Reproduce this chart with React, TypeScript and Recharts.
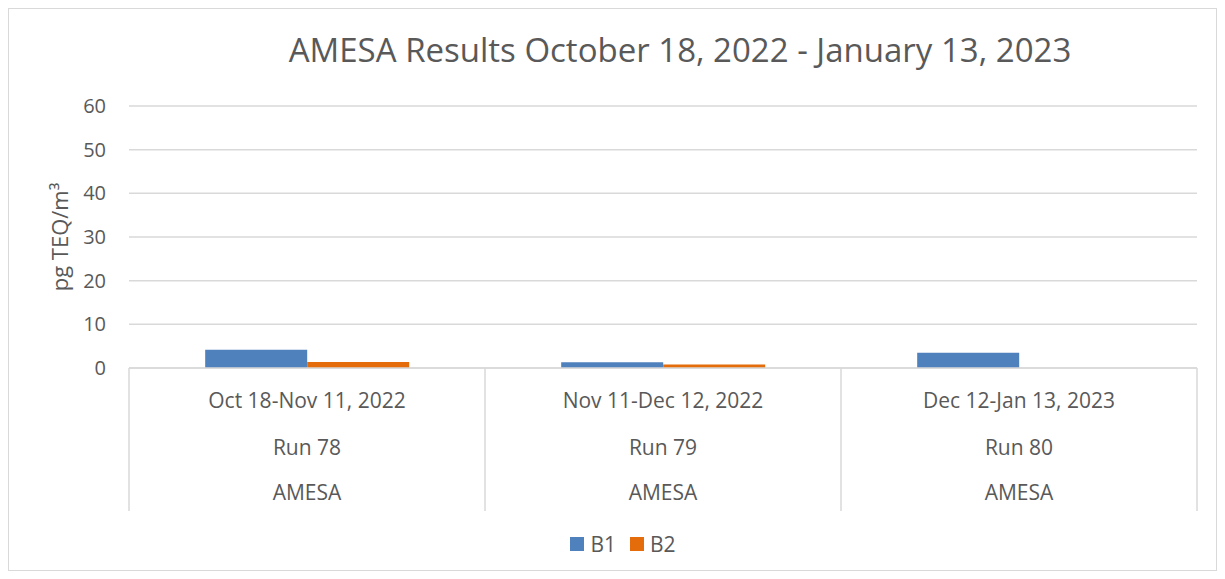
import React from 'react';
import { BarChart, Bar, XAxis, YAxis, CartesianGrid, Legend } from 'recharts';

const periods = ['Oct 18-Nov 11, 2022', 'Nov 11-Dec 12, 2022', 'Dec 12-Jan 13, 2023'];
const runs = ['Run 78', 'Run 79', 'Run 80'];
const sites = ['AMESA', 'AMESA', 'AMESA'];
const b1Values = [4.2, 1.3, 3.5];
const b2Values: (number | null)[] = [1.4, 0.8, null];
const yTicks = [0, 10, 20, 30, 40, 50, 60];

const data = periods.map((p, i) => ({
  period: p,
  run: runs[i],
  site: sites[i],
  B1: b1Values[i],
  B2: b2Values[i],
}));

const textColor = '#595959';
const lineColor = '#d9d9d9';
const font = '"Open Sans", sans-serif';

const MultiLevelTick = (props: any) => {
  const { x, y, payload, index } = props;
  const half = payload && payload.offset ? payload.offset : 178;
  const row = data[index] || data[0];
  const axisH = 143;
  return (
    <g>
      <line x1={x - half} y1={y} x2={x - half} y2={y + axisH} stroke={lineColor} strokeWidth={1.5} />
      {index === data.length - 1 && (
        <line x1={x + half} y1={y} x2={x + half} y2={y + axisH} stroke={lineColor} strokeWidth={1.5} />
      )}
      <text x={x} y={y + 32} textAnchor="middle" dominantBaseline="central" fill={textColor} fontSize={21} fontFamily={font}>
        {row.period}
      </text>
      <text x={x} y={y + 79} textAnchor="middle" dominantBaseline="central" fill={textColor} fontSize={21} fontFamily={font}>
        {row.run}
      </text>
      <text x={x} y={y + 124} textAnchor="middle" dominantBaseline="central" fill={textColor} fontSize={21} fontFamily={font}>
        {row.site}
      </text>
    </g>
  );
};

const LegendContent = (props: any) => {
  const { payload } = props;
  return (
    <div style={{ display: 'flex', justifyContent: 'center', paddingLeft: 40 }}>
      {(payload || []).map((item: any) => (
        <div key={item.value} style={{ display: 'flex', alignItems: 'center', margin: '0 7px' }}>
          <span style={{ width: 14, height: 14, background: item.color, display: 'inline-block', marginRight: 6 }} />
          <span style={{ color: textColor, fontSize: 21, fontFamily: font }}>{item.value}</span>
        </div>
      ))}
    </div>
  );
};

const App = () => {
  return (
    <div
      style={{
        position: 'relative',
        width: 1209,
        height: 563,
        border: `1px solid ${lineColor}`,
        boxSizing: 'border-box',
        background: '#fff',
        fontFamily: font,
      }}
    >
      <div
        style={{
          position: 'absolute',
          left: 671,
          top: 40,
          transform: 'translate(-50%, -50%)',
          whiteSpace: 'nowrap',
          fontSize: 33,
          color: textColor,
          fontFamily: font,
        }}
      >
        AMESA Results October 18, 2022 - January 13, 2023
      </div>
      <BarChart
        width={1207}
        height={561}
        data={data}
        margin={{ top: 97, right: 19, left: 0, bottom: 31 }}
        barCategoryGap="21.4%"
        barGap={0}
      >
        <CartesianGrid vertical={false} stroke={lineColor} strokeWidth={1.5} />
        <XAxis
          dataKey="period"
          height={143}
          tickLine={false}
          tickSize={0}
          tickMargin={0}
          axisLine={{ stroke: lineColor, strokeWidth: 1.5 }}
          tick={<MultiLevelTick />}
          interval={0}
        />
        <YAxis
          width={120}
          domain={[0, 60]}
          ticks={yTicks}
          axisLine={false}
          tickLine={false}
          tickSize={0}
          tickMargin={23}
          tick={{ fill: textColor, fontSize: 20, fontFamily: font }}
          label={{
            value: 'pg TEQ/m³',
            angle: -90,
            position: 'center',
            dx: -9,
            fill: textColor,
            fontSize: 22,
            fontFamily: font,
          }}
        />
        <Legend
          verticalAlign="bottom"
          align="center"
          content={<LegendContent />}
          wrapperStyle={{ bottom: 12 }}
        />
        <Bar dataKey="B1" fill="#4F81BD" isAnimationActive={false} />
        <Bar dataKey="B2" fill="#E46C0A" isAnimationActive={false} />
      </BarChart>
    </div>
  );
};

export default App;
